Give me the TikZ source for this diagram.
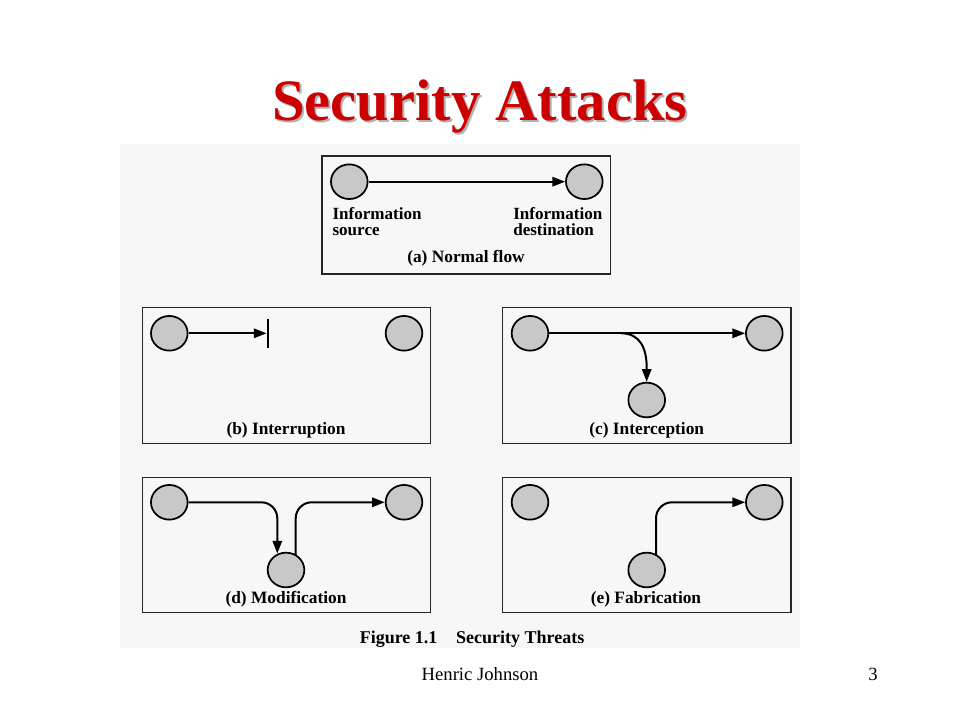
\documentclass[tikz,border=0pt]{standalone}
\usepackage{fontspec}
\setmainfont{Liberation Serif}
\usetikzlibrary{arrows.meta,shapes.geometric}
\definecolor{panelcol}{HTML}{F7F7F7}
\definecolor{nodegray}{HTML}{C8C8C8}
\definecolor{titlered}{HTML}{CC0000}
\tikzset{
  pt/.style={ellipse,draw=black,line width=1.3pt,fill=nodegray,inner sep=0pt,
             minimum width=27.5pt,minimum height=26pt},
  framebox/.style={draw=black!85,line width=1.1pt,fill=panelcol},
  arr/.style={line width=1.5pt,-{Triangle[length=9.5pt,width=7pt]}},
  barline/.style={line width=1.6pt},
  lab/.style={anchor=base,font=\bfseries\fontsize{13}{15.5}\selectfont,inner sep=0pt},
  infolab/.style={anchor=base west,inner sep=0pt,font=\bfseries\fontsize{12.8}{12.5}\selectfont},
}
\begin{document}
\begin{tikzpicture}[x=0.75pt,y=-0.75pt]
\useasboundingbox (0,0) rectangle (960,720);
\fill[white] (0,0) rectangle (960,720);
% title
\node[anchor=base,text=black!30,font=\bfseries\fontsize{44}{50}\selectfont,inner sep=0pt] (titleshadow) at (482,123) {Security Attacks};
\node[anchor=base,text=titlered,font=\bfseries\fontsize{44}{50}\selectfont,inner sep=0pt] (title) at (480,121) {Security Attacks};
% panel
\fill[panelcol] (120,144) rectangle (800,648);
% boxes
\draw[framebox] (322,156) rectangle (610.5,274);
\draw[framebox] (142.5,307.5) rectangle (430.7,443.3);
\draw[framebox] (502.3,307.5) rectangle (791,443.3);
\draw[framebox] (142.5,477.3) rectangle (430.7,612.7);
\draw[framebox] (502.3,477.3) rectangle (791,612.7);
% (a)
\node[pt] (a1) at (349.3,181.7) {};
\node[pt] (a2) at (584.3,181.7) {};
\draw[arr] (a1) -- (a2);
\node[infolab] (asrc1) at (332.3,219.5) {Information};
\node[infolab] (asrc2) at (332.3,236) {source};
\node[infolab] (adst1) at (513,219.5) {Information};
\node[infolab] (adst2) at (513,236) {destination};
\node[lab] (alab) at (466,263) {(a) Normal flow};
% (b)
\node[pt] (b1) at (169.3,333.3) {};
\node[pt] (b2) at (404,333.3) {};
\coordinate (bstop) at (266.5,333.3);
\coordinate (bbt) at (267.7,319);
\coordinate (bbb) at (267.7,348);
\draw[arr] (b1) -- (bstop);
\draw[barline] (bbt) -- (bbb);
\node[lab] (blab) at (286,434) {(b) Interruption};
% (c)
\node[pt] (c1) at (530,333.3) {};
\node[pt] (c2) at (764.3,333.3) {};
\node[pt] (c3) at (646.7,400) {};
\coordinate (cbr) at (621,333.3);
\draw[arr] (c1) -- (c2);
\draw[arr] (cbr) .. controls (640,333.3) and (646.7,348) .. (646.7,368) -- (c3.north);
\node[lab] (clab) at (646.7,434) {(c) Interception};
% (d)
\node[pt] (d1) at (169.3,502.3) {};
\node[pt] (d2) at (404,502.3) {};
\node[pt] (d3) at (286,570) {};
\coordinate (dL) at (277.3,553.5);
\coordinate (dR) at (295.7,555);
\draw[arr,rounded corners=12pt] (d1) -| (dL);
\draw[arr,rounded corners=12pt] (dR) |- (d2);
\node[lab] (dlab) at (286,603) {(d) Modification};
% (e)
\node[pt] (e1) at (530,502.3) {};
\node[pt] (e2) at (764.3,502.3) {};
\node[pt] (e3) at (646.7,570) {};
\coordinate (eR) at (656,555);
\draw[arr,rounded corners=12pt] (eR) |- (e2);
\node[lab] (elab) at (646,603) {(e) Fabrication};
% caption
\node[anchor=base,font=\bfseries\fontsize{13.5}{16}\selectfont,inner sep=0pt] (cap) at (472,643) {Figure 1.1\hspace{14pt}Security Threats};
% footer
\node[anchor=base,font=\fontsize{14}{16}\selectfont,inner sep=0pt] (foot) at (480,680) {Henric Johnson};
\node[anchor=base,font=\fontsize{14}{16}\selectfont,inner sep=0pt] (pnum) at (873,680) {3};
\end{tikzpicture}
\end{document}
